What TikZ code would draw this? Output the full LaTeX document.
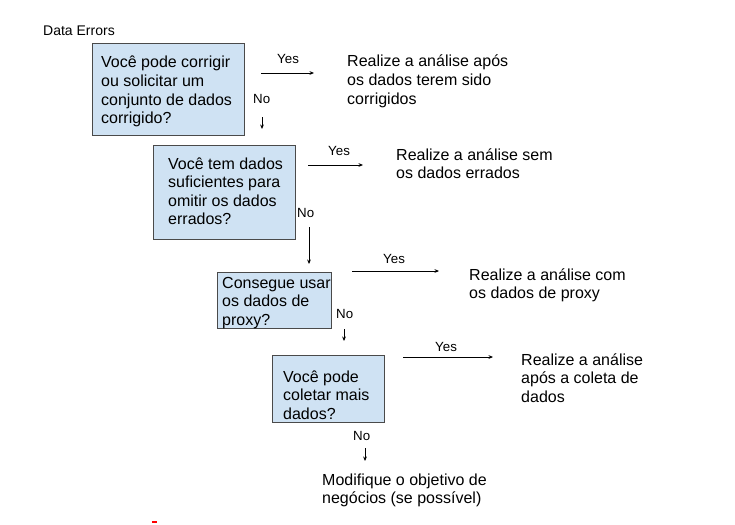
\documentclass[tikz,border=0pt]{standalone}
\usepackage{fontspec}
\setmainfont{Liberation Sans}
\usetikzlibrary{arrows.meta}
\definecolor{boxfill}{HTML}{CFE2F3}
\definecolor{boxline}{HTML}{4A4A4A}
\newcommand{\mlines}[1]{\vtop{\baselineskip=18.6pt #1}}
\tikzset{
  qbox/.style={draw=boxline, fill=boxfill, line width=1pt},
  txt/.style={anchor=base west, inner sep=0pt, font=\fontsize{16}{18.6}\selectfont},
  lbl/.style={anchor=base west, inner sep=0pt, font=\fontsize{13.3}{15}\selectfont},
  arr/.style={draw=black, line width=0.8pt, -{Stealth[length=4.5pt,width=3.8pt]}},
  ln/.style={draw=black, line width=0.8pt}
}
\begin{document}
\begin{tikzpicture}[x=1pt,y=-1pt]
\useasboundingbox (0,0) rectangle (735,524);
% title
\node[lbl, font=\fontsize{14}{16}\selectfont] (title) at (43,36) {Data Errors};
% boxes
\path[qbox] (92,44) rectangle (244,135);
\path[qbox] (153,145) rectangle (295,239);
\path[qbox] (217,272) rectangle (331,328);
\path[qbox] (272,355) rectangle (384,422);
% box texts
\node[txt] (q1) at (101,68) {\mlines{\hbox{Você pode corrigir}\hbox{ou solicitar um}\hbox{conjunto de dados}\hbox{corrigido?}}};
\node[txt] (q2) at (168,169) {\mlines{\hbox{Você tem dados}\hbox{suficientes para}\hbox{omitir os dados}\hbox{errados?}}};
\node[txt] (q3) at (222,288) {\mlines{\hbox{Consegue usar}\hbox{os dados de}\hbox{proxy?}}};
\node[txt] (q4) at (283,382) {\mlines{\hbox{Você pode}\hbox{coletar mais}\hbox{dados?}}};
% results
\node[txt] (r1) at (347,67) {\mlines{\hbox{Realize a análise após}\hbox{os dados terem sido}\hbox{corrigidos}}};
\node[txt] (r2) at (396,160) {\mlines{\hbox{Realize a análise sem}\hbox{os dados errados}}};
\node[txt] (r3) at (469,280) {\mlines{\hbox{Realize a análise com}\hbox{os dados de proxy}}};
\node[txt] (r4) at (521,365) {\mlines{\hbox{Realize a análise}\hbox{após a coleta de}\hbox{dados}}};
\node[txt] (r5) at (322,485) {\mlines{\hbox{Modifique o objetivo de}\hbox{negócios (se possível)}}};
% labels
\node[lbl] (y1) at (277,64) {Yes};
\node[lbl] (n1) at (253,103) {No};
\node[lbl] (y2) at (328,155) {Yes};
\node[lbl] (n2) at (297,217) {No};
\node[lbl] (y3) at (383,263) {Yes};
\node[lbl] (n3) at (336,318) {No};
\node[lbl] (y4) at (435,351) {Yes};
\node[lbl] (n4) at (353,440) {No};
% connector endpoints
\coordinate (a1s) at (261,73);  \coordinate (a1e) at (314,73);
\coordinate (b1s) at (262,117); \coordinate (b1e) at (262,129);
\coordinate (a2s) at (308,165); \coordinate (a2e) at (363,165);
\coordinate (b2s) at (309,227); \coordinate (b2e) at (309,264);
\coordinate (a3s) at (352,271); \coordinate (a3e) at (439,271);
\coordinate (b3s) at (344,329); \coordinate (b3e) at (344,341);
\coordinate (a4s) at (403,357); \coordinate (a4e) at (493,357);
\coordinate (b4s) at (365,448); \coordinate (b4e) at (365,461);
\draw[arr] (a1s) -- (a1e);
\draw[arr] (b1s) -- (b1e);
\draw[arr] (a2s) -- (a2e);
\draw[arr] (b2s) -- (b2e);
\draw[arr] (a3s) -- (a3e);
\draw[arr] (b3s) -- (b3e);
\draw[arr] (a4s) -- (a4e);
\draw[arr] (b4s) -- (b4e);
% small red mark
\coordinate (m1) at (152,522); \coordinate (m2) at (157,522);
\draw[red, line width=1.5pt] (m1) -- (m2);
\end{tikzpicture}
\end{document}
